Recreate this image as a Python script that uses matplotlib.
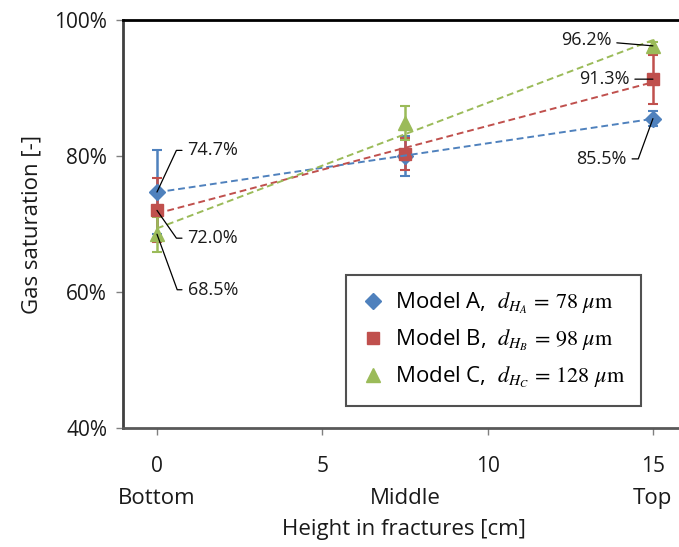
import numpy as np
import matplotlib
matplotlib.use("Agg")
import matplotlib.pyplot as plt
from matplotlib.ticker import PercentFormatter

# datos
height = [0, 7.5, 15]
pos_labels = ["Bottom", "Middle", "Top"]
sat_a = [74.7, 80.0, 85.5]
sat_b = [72.0, 80.3, 91.3]
sat_c = [68.5, 84.9, 96.2]
err_a = [6.2, 2.9, 1.1]
err_b = [4.7, 2.4, 3.6]
err_c = [2.6, 2.5, 0.5]
names = ["Model A,  $d_{H_A}\\,=\\,78\\ \\mu\\mathrm{m}$",
         "Model B,  $d_{H_B}\\,=\\,98\\ \\mu\\mathrm{m}$",
         "Model C,  $d_{H_C}\\,=\\,128\\ \\mu\\mathrm{m}$"]

plt.rcParams['font.family'] = ['Open Sans', 'DejaVu Sans']
plt.rcParams['mathtext.fontset'] = 'stix'

W, H = 679, 547
fig = plt.figure(figsize=(W / 100, H / 100), dpi=100)
ax = fig.add_axes([122.5 / W, 1 - 428 / H, 563.5 / W, 408 / H])

colors = ['#4F81BD', '#C0504D', '#9BBB59']
markers = ['D', 's', '^']
msizes = [8, 9, 10]
series = [(sat_a, err_a), (sat_b, err_b), (sat_c, err_c)]

x = np.array(height)
xx = np.array([0, 15])
for (vals, errs), c, m, ms, nm in zip(series, colors, markers, msizes, names):
    ax.errorbar(x, vals, yerr=errs, fmt='none', ecolor=c, elinewidth=1.8,
                capsize=3.5, capthick=1.5, zorder=3)
    ax.plot(x, vals, linestyle='none', marker=m, color=c, markersize=ms,
            label=nm, zorder=4)
    # linea de tendencia
    k, b = np.polyfit(x, vals, 1)
    ax.plot(xx, k * xx + b, linestyle=(0, (3.5, 2)), color=c, lw=1.4, zorder=5)

# etiquetas de valores (dx, dy en puntos, angulo del tramo inclinado)
ann = [
    (0, sat_a[0], 22, 30, 'left', 65),
    (0, sat_b[0], 22, -20, 'left', -55),
    (0, sat_c[0], 22, -40, 'left', -70),
    (15, sat_c[2], -30, 4, 'right', None),
    (15, sat_b[2], -17, 0, 'right', None),
    (15, sat_a[2], -19, -29, 'right', 70),
]
for xv, yv, dx, dy, ha, ang in ann:
    if ang is None:
        cs = "arc3,rad=0"
    else:
        cs = f"angle,angleA=0,angleB={ang},rad=0"
    ax.annotate(f"{yv:.1f}%", xy=(xv, yv), xytext=(dx, dy),
                textcoords='offset points', ha=ha, va='center', fontsize=13,
                color='#1a1a1a', zorder=6,
                arrowprops=dict(arrowstyle='-', color='black', lw=0.9,
                                shrinkA=2, shrinkB=0, connectionstyle=cs))

ax.set_xlim(-1.043, 16)
ax.set_ylim(40, 100)
ax.set_xticks([0, 5, 10, 15])
ax.set_yticks([40, 60, 80, 100])
ax.yaxis.set_major_formatter(PercentFormatter(decimals=0))
ax.tick_params(axis='both', labelsize=15, colors='#808080', labelcolor='#1a1a1a',
               length=5, width=1)
ax.tick_params(axis='x', pad=15)
ax.tick_params(axis='y', pad=6)

for xv, lab in zip(height, pos_labels):
    ax.annotate(lab, xy=(xv, 0), xycoords=('data', 'axes fraction'),
                xytext=(0, -51), textcoords='offset points', ha='center',
                va='center', fontsize=16, color='#1a1a1a', annotation_clip=False)

ax.set_xlabel("Height in fractures [cm]", fontsize=16, color='#1a1a1a')
ax.xaxis.set_label_coords(0.5, -0.222)
ax.set_ylabel("Gas saturation [-]", fontsize=16, color='#1a1a1a')
ax.yaxis.set_label_coords(-0.142, 0.5)

ax.spines['top'].set_color('black')
ax.spines['left'].set_color('#404040')
ax.spines['bottom'].set_color('#595959')
for s in ['top', 'left', 'bottom']:
    ax.spines[s].set_linewidth(2)
ax.spines['right'].set_visible(False)

leg = ax.legend(loc='upper left', bbox_to_anchor=(346 / W, 1 - 275 / H),
                bbox_transform=fig.transFigure, fontsize=16, frameon=True,
                fancybox=False, edgecolor='#262626', handlelength=1.0,
                handletextpad=0.5, borderpad=0.7, labelspacing=0.55,
                borderaxespad=0)
leg.get_frame().set_linewidth(1.5)

fig.savefig("out.png", dpi=100)
